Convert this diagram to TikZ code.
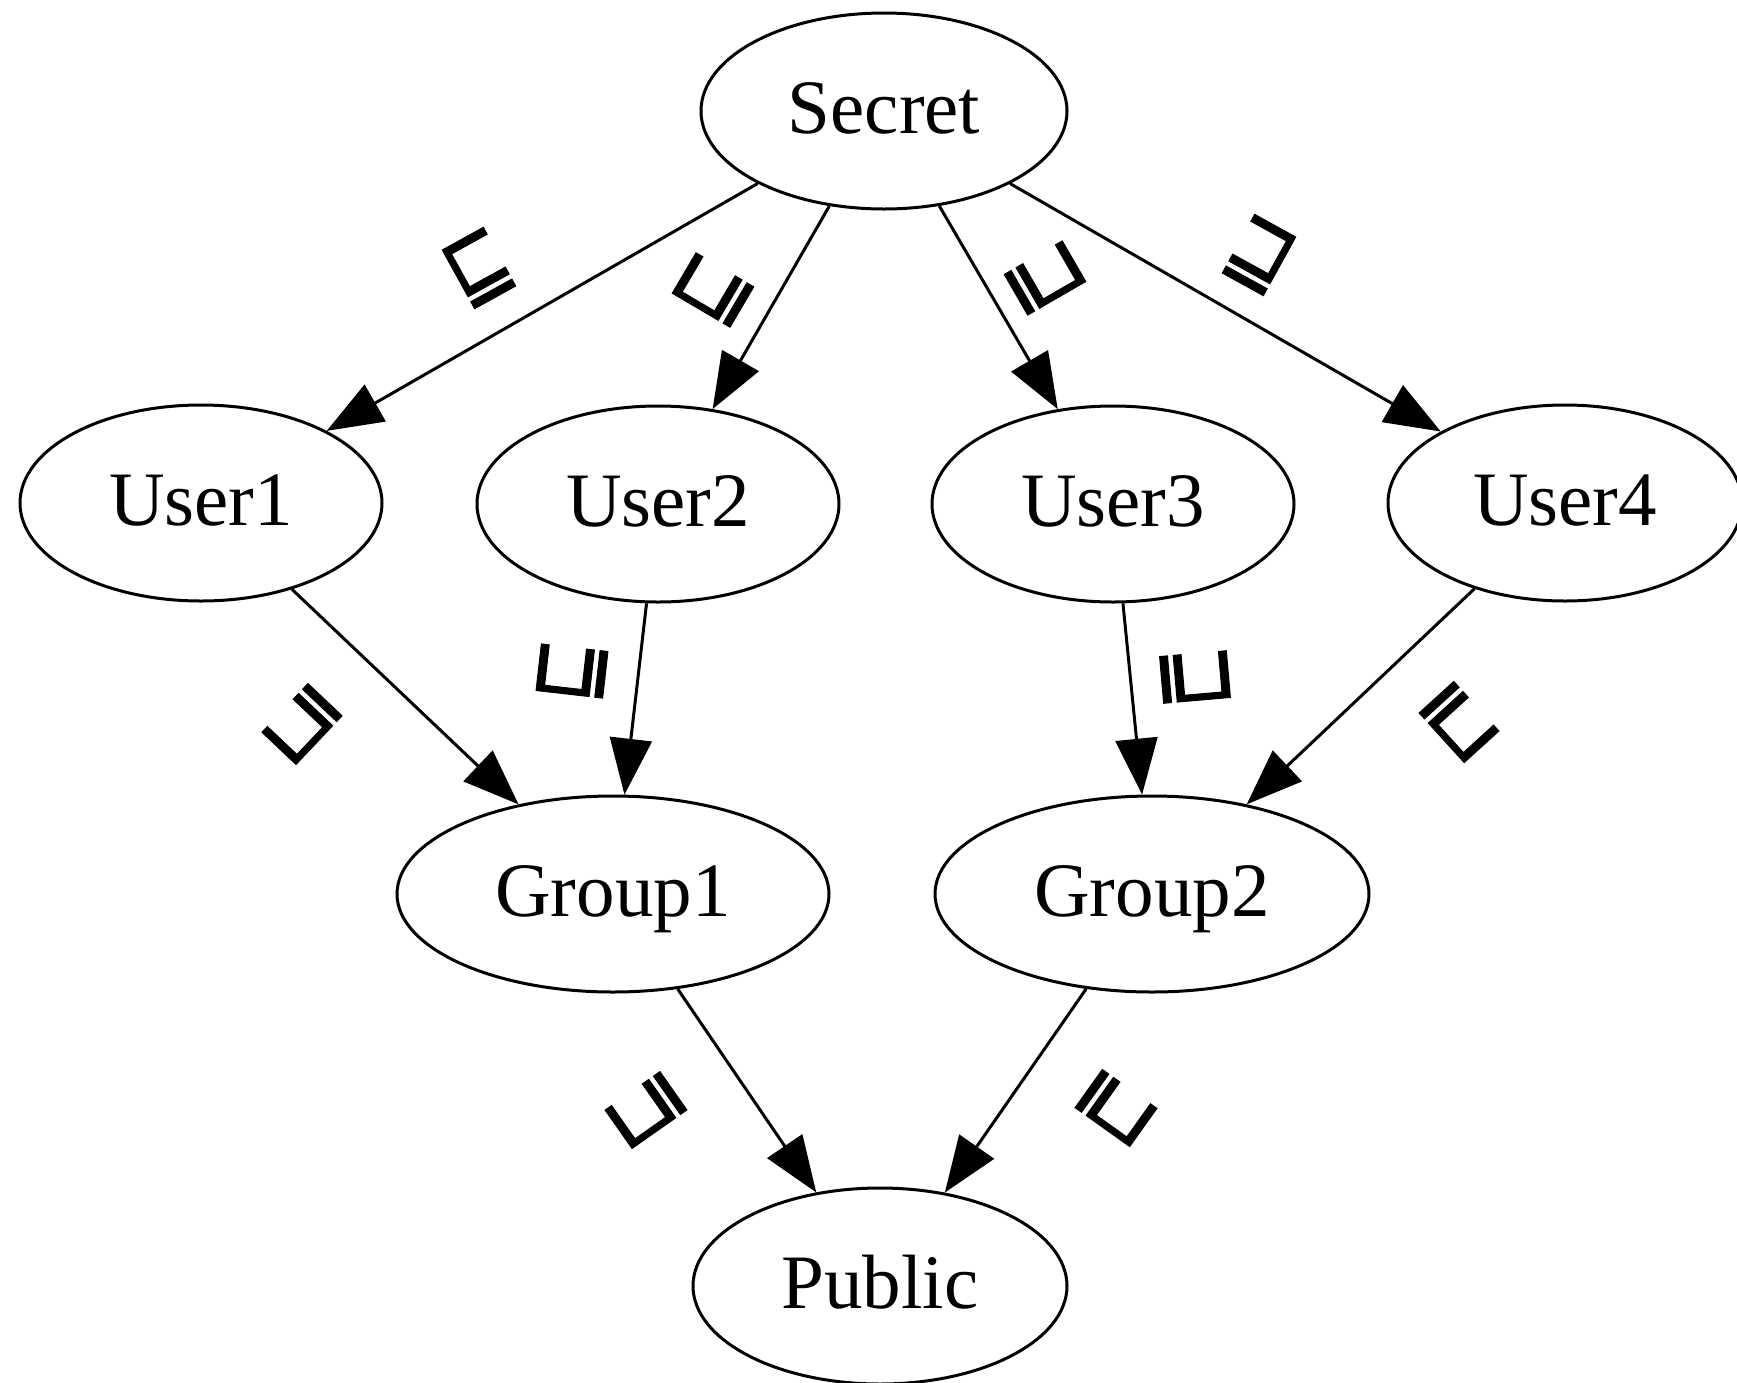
\documentclass[tikz,border=0pt]{standalone}
\usepackage{fontspec}
\setmainfont{Liberation Serif}
\newfontfamily\symfont[FakeBold=1.2]{DejaVu Sans}
\usetikzlibrary{shapes.geometric,arrows.meta}

\newcommand{\relsym}[1]{\scalebox{1}[1.25]{#1}}

\begin{document}
\begin{tikzpicture}[x=0.5pt,y=-0.5pt,
  stage/.style={ellipse, draw, line width=1.5pt, inner sep=0pt,
    minimum height=98pt, font=\fontsize{38.5}{40}\selectfont,
    text height=25.4pt, text depth=3pt},
  flow/.style={draw, line width=1.5pt, -{Triangle[length=28pt,width=21pt]}},
  rel/.style={inner sep=0pt, font=\symfont\fontsize{37.5}{40}\selectfont}
]
\useasboundingbox (0,0) rectangle (1737,1383);
\begin{scope}
\clip (0,0) rectangle (1737,1383);

% lattice elements
\node[stage, minimum width=183pt] (secret) at (884,111) {Secret};
\node[stage, minimum width=181pt] (user1) at (201,503) {User1};
\node[stage, minimum width=181pt] (user2) at (658,504) {User2};
\node[stage, minimum width=181pt] (user3) at (1113,504) {User3};
\node[stage, minimum width=177pt] (user4) at (1565,503) {User4};
\node[stage, minimum width=216pt] (group1) at (613,894) {Group1};
\node[stage, minimum width=217pt] (group2) at (1152,894) {Group2};
\node[stage, minimum width=187pt] (public) at (880,1286) {Public};

% ordering edges
\draw[flow] (secret) -- (user1);
\draw[flow] (secret) -- (user2);
\draw[flow] (secret) -- (user3);
\draw[flow] (secret) -- (user4);
\draw[flow] (user1) -- (group1);
\draw[flow] (user2) -- (group1);
\draw[flow] (user3) -- (group2);
\draw[flow] (user4) -- (group2);
\draw[flow] (group1) -- (public);
\draw[flow] (group2) -- (public);

% relation symbols beside the edges
\node[rel, rotate=28.9]  (r1)  at (479,268)  {\relsym{⊑}};
\node[rel, rotate=59.5]  (r2)  at (713,290)  {\relsym{⊑}};
\node[rel, rotate=-60]   (r3)  at (1045,278) {\relsym{⊒}};
\node[rel, rotate=-28.9] (r4)  at (1259,255) {\relsym{⊒}};
\node[rel, rotate=136.6] (r5)  at (302,724)  {\relsym{⊑}};
\node[rel, rotate=83.5]  (r6)  at (572,671)  {\relsym{⊑}};
\node[rel, rotate=-85]   (r7)  at (1195,677) {\relsym{⊒}};
\node[rel, rotate=222.3] (r8)  at (1459,722) {\relsym{⊒}};
\node[rel, rotate=125.1] (r9)  at (646,1110) {\relsym{⊑}};
\node[rel, rotate=234.5] (r10) at (1116,1108) {\relsym{⊒}};
\end{scope}
\end{tikzpicture}
\end{document}
